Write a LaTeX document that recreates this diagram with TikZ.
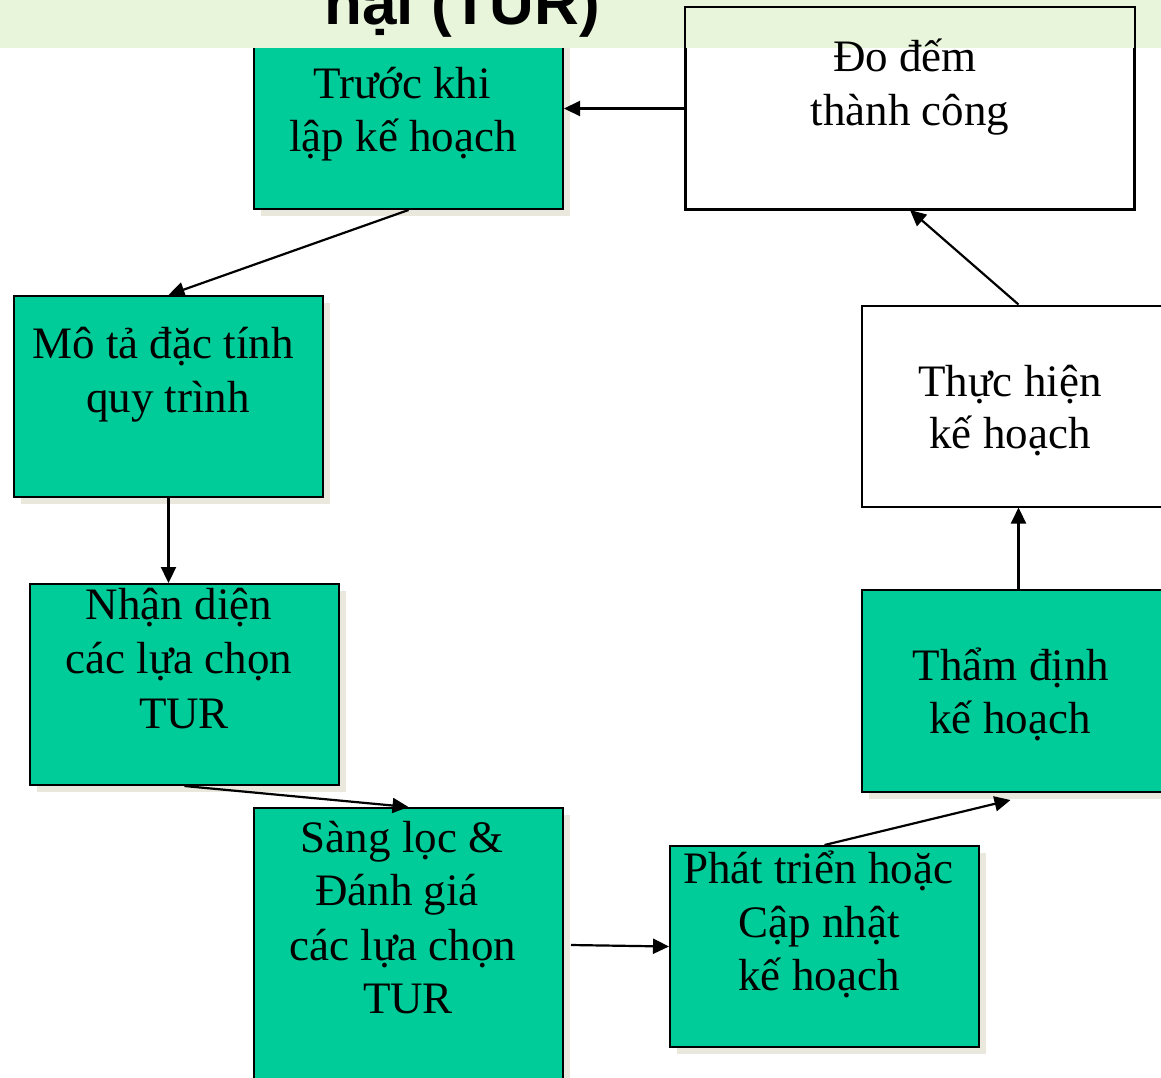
\documentclass[tikz,border=0pt]{standalone}
\usepackage{fontspec}
\setmainfont{Liberation Serif}
\newfontfamily\titlefont{Liberation Sans}
\usetikzlibrary{arrows.meta,shadows}
\definecolor{boxgreen}{RGB}{0,204,153}
\definecolor{bandgreen}{RGB}{232,245,218}
\definecolor{shadowc}{RGB}{234,231,220}
\tikzset{
  gbox/.style={draw=black, line width=2pt, fill=boxgreen, rectangle, inner sep=0pt,
    general shadow={shadow xshift=7pt, shadow yshift=-7pt, fill=shadowc}},
  wbox/.style={draw=black, line width=2pt, fill=white, rectangle, inner sep=0pt},
  lbl/.style={anchor=base, inner sep=0pt, font=\fontsize{45}{54}\selectfont},
  conn/.style={draw=black, line width=2.2pt, -{Triangle[length=16pt,width=15pt]}}
}
\begin{document}
\begin{tikzpicture}[x=1pt,y=-1pt]
\useasboundingbox (0,0) rectangle (1161,1077);
\fill[white] (0,0) rectangle (1161,1077);
\clip (0,0) rectangle (1161,1077);
% boxes
\node[gbox, minimum width=309pt, minimum height=199pt] (b1) at (408.5,109.5) {};
\node[wbox, minimum width=448pt, minimum height=201pt] (b2) at (910,108.5) {};
\node[gbox, minimum width=309pt, minimum height=201pt] (b3) at (168.5,396.5) {};
\node[gbox, minimum width=309pt, minimum height=201pt] (b4) at (184.5,684.5) {};
\node[gbox, minimum width=309pt, minimum height=292pt] (b5) at (408.5,954) {};
\node[gbox, minimum width=309pt, minimum height=201pt] (b6) at (824.5,946.5) {};
\node[gbox, minimum width=313pt, minimum height=202pt] (b7) at (1018.5,691) {};
\node[wbox, minimum width=313pt, minimum height=201pt] (b8) at (1018.5,406) {};
% connectors
\draw[conn] (b2.west) -- (b1.east |- b2.west);
\draw[conn] (b1.south) -- (b3.north);
\draw[conn] (b3.south) -- (b3.south |- b4.north);
\draw[conn] (b4.south) -- (b5.north);
\draw[conn] ([shift={(7,-9)}]b5.east) -- (b6.west);
\draw[conn] (b6.north) -- ([shift={(-8,7)}]b7.south);
\draw[conn] (b7.north) -- (b8.south);
\draw[conn] (b8.north) -- (b2.south);
% title band
\fill[bandgreen] (0,0) rectangle (1161,48);
\node[anchor=base, inner sep=0pt, font=\titlefont\bfseries\fontsize{62}{70}\selectfont] (title) at (462,24) {nại (TUR)};
\draw[line width=2pt] (b2.north west) rectangle (b2.south east);
% texts
\node[lbl] (t1a) at (402,98) {Trước khi};
\node[lbl] (t1b) at (403,151) {lập kế hoạch};
\node[lbl] (t2a) at (905,71) {Đo đếm};
\node[lbl] (t2b) at (910,125) {thành công};
\node[lbl] (t3a) at (163,358) {Mô tả đặc tính};
\node[lbl] (t3b) at (168,412) {quy trình};
\node[lbl] (t4a) at (179,619) {Nhận diện};
\node[lbl] (t4b) at (179,673) {các lựa chọn};
\node[lbl] (t4c) at (184,728) {TUR};
\node[lbl] (t5a) at (402,852) {Sàng lọc \&};
\node[lbl] (t5b) at (397,905) {Đánh giá};
\node[lbl] (t5c) at (403,960) {các lựa chọn};
\node[lbl] (t5d) at (408,1013) {TUR};
\node[lbl] (t6a) at (818,883) {Phát triển hoặc};
\node[lbl] (t6b) at (819,937) {Cập nhật};
\node[lbl] (t6c) at (819,990) {kế hoạch};
\node[lbl] (t7a) at (1011,680) {Thẩm định};
\node[lbl] (t7b) at (1010,733) {kế hoạch};
\node[lbl] (t8a) at (1010,396) {Thực hiện};
\node[lbl] (t8b) at (1010,448) {kế hoạch};
\end{tikzpicture}
\end{document}
